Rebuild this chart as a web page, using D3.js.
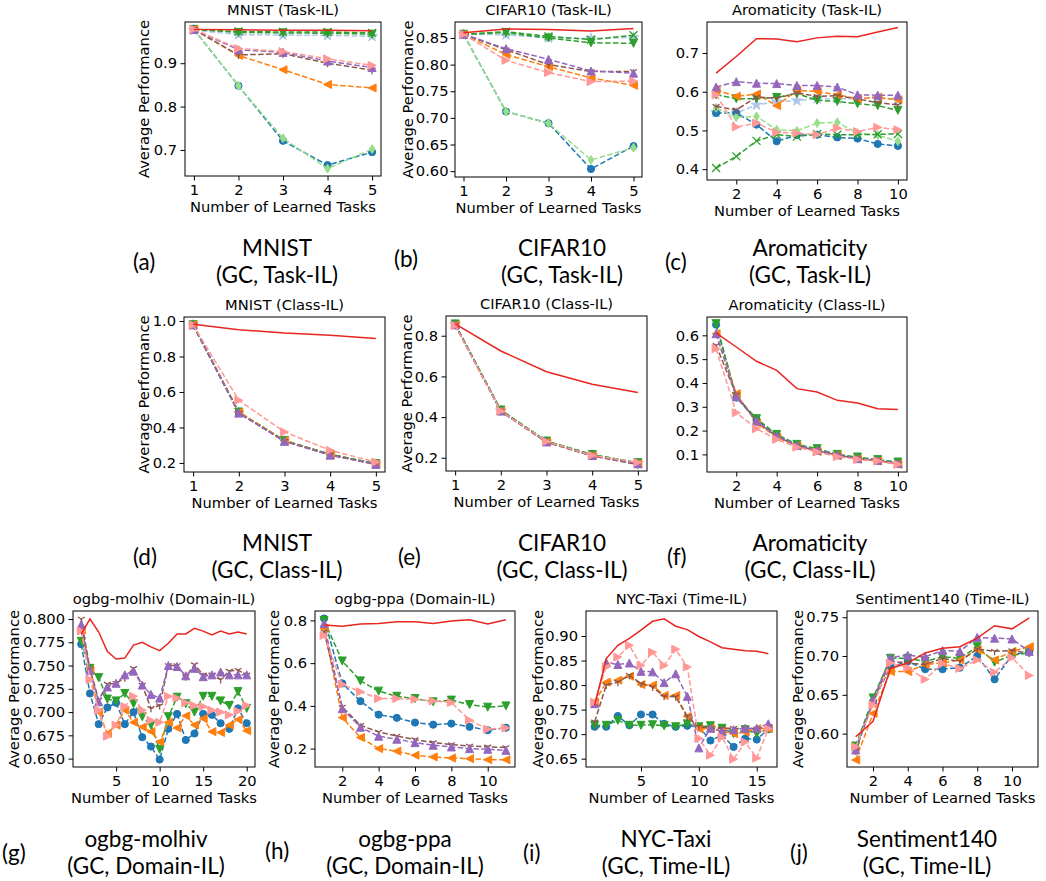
<!DOCTYPE html>
<html>
<head>
<meta charset="utf-8">
<script src="https://cdn.jsdelivr.net/npm/d3@7"></script>
<style>
  body { margin: 0; background: #fff; }
  svg text { font-family: "DejaVu Sans", sans-serif; fill: #000; }
  svg text.caption { font-family: Lato, "Open Sans", sans-serif; font-size: 22.5px; font-weight: 400; }
</style>
</head>
<body>
<svg id="chart" width="1046" height="881"></svg>
<script>
// x values (task counts)
const tasks5 = [1, 2, 3, 4, 5];
const tasks10 = [1, 2, 3, 4, 5, 6, 7, 8, 9, 10];
const tasks11 = [1, 2, 3, 4, 5, 6, 7, 8, 9, 10, 11];
const tasks16 = [1, 2, 3, 4, 5, 6, 7, 8, 9, 10, 11, 12, 13, 14, 15, 16];
const tasks20 = [1, 2, 3, 4, 5, 6, 7, 8, 9, 10, 11, 12, 13, 14, 15, 16, 17, 18, 19, 20];

// series are keyed by their marker; "upper" is the solid red line
const mnistTask = {
    upper:   [0.978, 0.977, 0.976, 0.976, 0.975],
    cross:   [0.978, 0.973, 0.972, 0.972, 0.970],
    down:    [0.978, 0.971, 0.970, 0.969, 0.967],
    star:    [0.976, 0.966, 0.965, 0.964, 0.962],
    up:      [0.978, 0.931, 0.925, 0.905, 0.890],
    right:   [0.978, 0.934, 0.927, 0.910, 0.895],
    tri:     [0.978, 0.919, 0.922, 0.900, 0.884],
    left:    [0.978, 0.918, 0.885, 0.851, 0.843],
    circle:  [0.978, 0.848, 0.721, 0.665, 0.695],
    diamond: [0.978, 0.848, 0.727, 0.657, 0.702]
};

const cifarTask = {
    upper:   [0.860, 0.867, 0.866, 0.863, 0.868],
    cross:   [0.857, 0.862, 0.853, 0.847, 0.855],
    down:    [0.857, 0.860, 0.850, 0.841, 0.840],
    star:    [0.857, 0.856, 0.850, 0.849, 0.851],
    up:      [0.857, 0.830, 0.810, 0.788, 0.784],
    tri:     [0.857, 0.828, 0.800, 0.787, 0.787],
    left:    [0.857, 0.819, 0.796, 0.775, 0.761],
    right:   [0.857, 0.808, 0.785, 0.768, 0.769],
    circle:  [0.857, 0.712, 0.690, 0.604, 0.647],
    diamond: [0.857, 0.712, 0.690, 0.621, 0.644]
};

const aromTask = {
    upper:   [0.648, 0.691, 0.737, 0.736, 0.729, 0.739, 0.743, 0.742, 0.754, 0.766],
    up:      [0.612, 0.626, 0.622, 0.621, 0.616, 0.616, 0.612, 0.592, 0.591, 0.591],
    left:    [0.605, 0.588, 0.594, 0.564, 0.603, 0.601, 0.592, 0.582, 0.586, 0.579],
    down:    [0.592, 0.582, 0.582, 0.585, 0.595, 0.578, 0.575, 0.569, 0.564, 0.552],
    tri:     [0.562, 0.553, 0.586, 0.583, 0.597, 0.588, 0.590, 0.581, 0.572, 0.566],
    star:    [0.547, 0.545, 0.566, 0.574, 0.577, 0.582, 0.582, 0.582, 0.584, 0.579],
    right:   [0.592, 0.509, 0.519, 0.495, 0.493, 0.489, 0.506, 0.497, 0.508, 0.502],
    diamond: [0.558, 0.534, 0.536, 0.502, 0.499, 0.519, 0.521, 0.493, 0.488, 0.472],
    circle:  [0.545, 0.545, 0.515, 0.472, 0.488, 0.489, 0.482, 0.479, 0.465, 0.460],
    cross:   [0.403, 0.433, 0.473, 0.489, 0.484, 0.491, 0.489, 0.489, 0.490, 0.491]
};

const mnistClass = {
    upper:   [0.982, 0.951, 0.932, 0.919, 0.902],
    circle:  [0.978, 0.483, 0.325, 0.247, 0.195],
    diamond: [0.978, 0.484, 0.324, 0.246, 0.194],
    cross:   [0.977, 0.485, 0.326, 0.248, 0.196],
    down:    [0.979, 0.487, 0.327, 0.249, 0.196],
    star:    [0.977, 0.482, 0.323, 0.246, 0.194],
    up:      [0.978, 0.481, 0.322, 0.244, 0.192],
    left:    [0.979, 0.486, 0.326, 0.245, 0.193],
    tri:     [0.978, 0.480, 0.322, 0.245, 0.192],
    right:   [0.978, 0.553, 0.375, 0.271, 0.205]
};

const cifarClass = {
    upper:   [0.858, 0.725, 0.623, 0.562, 0.521],
    circle:  [0.855, 0.432, 0.280, 0.213, 0.172],
    diamond: [0.856, 0.433, 0.281, 0.214, 0.173],
    cross:   [0.857, 0.434, 0.282, 0.215, 0.174],
    down:    [0.858, 0.435, 0.282, 0.216, 0.176],
    star:    [0.855, 0.431, 0.279, 0.212, 0.172],
    up:      [0.854, 0.430, 0.278, 0.211, 0.171],
    left:    [0.853, 0.429, 0.277, 0.210, 0.169],
    tri:     [0.852, 0.428, 0.276, 0.209, 0.166],
    right:   [0.851, 0.430, 0.280, 0.212, 0.177]
};

const aromClass = {
    upper:  [0.610, 0.551, 0.491, 0.453, 0.376, 0.362, 0.327, 0.316, 0.292, 0.288],
    down:   [0.649, 0.344, 0.250, 0.184, 0.142, 0.124, 0.100, 0.089, 0.078, 0.068],
    circle: [0.645, 0.338, 0.245, 0.180, 0.140, 0.120, 0.100, 0.085, 0.075, 0.065],
    up:     [0.607, 0.343, 0.240, 0.178, 0.138, 0.118, 0.098, 0.082, 0.075, 0.062],
    left:   [0.607, 0.355, 0.232, 0.172, 0.135, 0.112, 0.095, 0.080, 0.072, 0.058],
    tri:    [0.558, 0.350, 0.238, 0.175, 0.137, 0.115, 0.097, 0.082, 0.074, 0.060],
    right:  [0.544, 0.275, 0.208, 0.163, 0.130, 0.110, 0.090, 0.079, 0.072, 0.058]
};

const molhiv = {
    upper:  [0.784, 0.800, 0.786, 0.765, 0.757, 0.758, 0.772, 0.775, 0.770, 0.766, 0.774, 0.784, 0.784, 0.790, 0.787, 0.783, 0.787, 0.784, 0.786, 0.784],
    tri:    [0.800, 0.746, 0.713, 0.730, 0.731, 0.737, 0.747, 0.729, 0.704, 0.707, 0.750, 0.750, 0.738, 0.751, 0.740, 0.740, 0.735, 0.744, 0.745, 0.740],
    up:     [0.794, 0.745, 0.711, 0.727, 0.731, 0.740, 0.744, 0.729, 0.719, 0.715, 0.750, 0.749, 0.739, 0.747, 0.738, 0.740, 0.743, 0.740, 0.740, 0.740],
    down:   [0.776, 0.747, 0.737, 0.714, 0.712, 0.720, 0.709, 0.695, 0.686, 0.660, 0.695, 0.716, 0.709, 0.700, 0.717, 0.717, 0.712, 0.707, 0.722, 0.704],
    right:  [0.787, 0.735, 0.702, 0.674, 0.686, 0.706, 0.717, 0.702, 0.691, 0.689, 0.717, 0.715, 0.710, 0.707, 0.706, 0.702, 0.700, 0.697, 0.701, 0.707],
    left:   [0.788, 0.745, 0.700, 0.677, 0.686, 0.702, 0.689, 0.684, 0.679, 0.668, 0.689, 0.683, 0.696, 0.686, 0.693, 0.679, 0.678, 0.686, 0.692, 0.680],
    circle: [0.773, 0.720, 0.687, 0.705, 0.710, 0.687, 0.700, 0.673, 0.663, 0.649, 0.682, 0.698, 0.670, 0.677, 0.698, 0.697, 0.688, 0.682, 0.704, 0.688]
};

const ppa = {
    upper:  [0.778, 0.773, 0.783, 0.786, 0.794, 0.794, 0.786, 0.797, 0.803, 0.783, 0.803],
    circle: [0.809, 0.505, 0.422, 0.359, 0.344, 0.322, 0.312, 0.317, 0.302, 0.286, 0.298],
    down:   [0.800, 0.610, 0.517, 0.469, 0.445, 0.434, 0.419, 0.427, 0.406, 0.394, 0.400],
    right:  [0.730, 0.500, 0.466, 0.434, 0.434, 0.431, 0.423, 0.416, 0.333, 0.291, 0.297],
    tri:    [0.747, 0.395, 0.309, 0.278, 0.259, 0.242, 0.228, 0.219, 0.212, 0.208, 0.205],
    up:     [0.786, 0.387, 0.300, 0.258, 0.244, 0.228, 0.216, 0.208, 0.200, 0.197, 0.192],
    left:   [0.763, 0.345, 0.252, 0.200, 0.188, 0.169, 0.161, 0.156, 0.153, 0.148, 0.148]
};

const taxi = {
    upper:  [0.759, 0.854, 0.881, 0.895, 0.912, 0.930, 0.935, 0.920, 0.913, 0.899, 0.888, 0.876, 0.873, 0.870, 0.869, 0.864],
    right:  [0.765, 0.837, 0.857, 0.881, 0.840, 0.867, 0.840, 0.873, 0.837, 0.691, 0.657, 0.694, 0.649, 0.684, 0.651, 0.711],
    up:     [0.762, 0.846, 0.842, 0.845, 0.828, 0.827, 0.805, 0.823, 0.777, 0.672, 0.712, 0.706, 0.709, 0.712, 0.712, 0.721],
    left:   [0.765, 0.806, 0.810, 0.818, 0.801, 0.800, 0.779, 0.779, 0.736, 0.711, 0.711, 0.706, 0.701, 0.704, 0.711, 0.711],
    tri:    [0.725, 0.800, 0.806, 0.820, 0.803, 0.796, 0.777, 0.776, 0.736, 0.715, 0.712, 0.712, 0.712, 0.711, 0.711, 0.715],
    circle: [0.715, 0.715, 0.737, 0.718, 0.740, 0.740, 0.721, 0.715, 0.717, 0.715, 0.687, 0.698, 0.674, 0.691, 0.689, 0.710],
    down:   [0.718, 0.718, 0.728, 0.718, 0.718, 0.719, 0.717, 0.715, 0.721, 0.715, 0.717, 0.712, 0.701, 0.709, 0.701, 0.711]
};

const sentiment = {
    upper:  [0.596, 0.616, 0.684, 0.691, 0.704, 0.710, 0.712, 0.723, 0.739, 0.735, 0.749],
    up:     [0.579, 0.643, 0.698, 0.701, 0.699, 0.707, 0.706, 0.724, 0.723, 0.722, 0.706],
    down:   [0.584, 0.646, 0.697, 0.697, 0.693, 0.699, 0.697, 0.712, 0.692, 0.701, 0.704],
    tri:    [0.578, 0.641, 0.693, 0.691, 0.689, 0.697, 0.693, 0.709, 0.706, 0.707, 0.704],
    left:   [0.566, 0.626, 0.680, 0.680, 0.689, 0.691, 0.695, 0.708, 0.695, 0.706, 0.712],
    circle: [0.582, 0.641, 0.686, 0.693, 0.683, 0.683, 0.685, 0.700, 0.670, 0.701, 0.706],
    right:  [0.583, 0.637, 0.691, 0.685, 0.670, 0.690, 0.684, 0.695, 0.679, 0.698, 0.675]
};

const colors = {
    circle: "#1f77b4", diamond: "#98df8a", cross: "#2ca02c", down: "#2ca02c",
    star: "#aec7e8", up: "#9467bd", right: "#ff9896", left: "#ff7f0e",
    tri: "#8c564b", upper: "#e8251f"
};
// drawing order, later ones on top
const order = ["star", "circle", "diamond", "cross", "down", "left", "tri", "up", "right", "upper"];

const panels = [
    { title: "MNIST (Task-IL)", xs: tasks5, data: mnistTask, box: [185, 22, 381, 176],
      yDomain: [0.64, 0.995], yTicks: [0.7, 0.8, 0.9], fmt: ".1f", xTicks: tasks5, yLabelX: 143, pad: 3.5 },
    { title: "CIFAR10 (Task-IL)", xs: tasks5, data: cifarTask, box: [455, 22, 642, 177],
      yDomain: [0.589, 0.88], yTicks: [0.60, 0.65, 0.70, 0.75, 0.80, 0.85], fmt: ".2f", xTicks: tasks5, yLabelX: 407, pad: 2 },
    { title: "Aromaticity (Task-IL)", xs: tasks10, data: aromTask, box: [707, 22, 907, 180],
      yDomain: [0.372, 0.78], yTicks: [0.4, 0.5, 0.6, 0.7], fmt: ".1f", xTicks: [2, 4, 6, 8, 10], yLabelX: null, pad: 3.5 },
    { title: "MNIST (Class-IL)", xs: tasks5, data: mnistClass, box: [184, 317, 385, 472],
      yDomain: [0.149, 1.0225], yTicks: [0.2, 0.4, 0.6, 0.8, 1.0], fmt: ".1f", xTicks: tasks5, yLabelX: 143, pad: 3.5 },
    { title: "CIFAR10 (Class-IL)", xs: tasks5, data: cifarClass, box: [446, 316, 647, 471],
      yDomain: [0.135, 0.897], yTicks: [0.2, 0.4, 0.6, 0.8], fmt: ".1f", xTicks: tasks5, yLabelX: 406, pad: 3.5 },
    { title: "Aromaticity (Class-IL)", xs: tasks10, data: aromClass, box: [707, 317, 907, 472],
      yDomain: [0.026, 0.677], yTicks: [0.1, 0.2, 0.3, 0.4, 0.5, 0.6], fmt: ".1f", xTicks: [2, 4, 6, 8, 10], yLabelX: null, pad: 3.5 },
    { title: "ogbg-molhiv (Domain-IL)", xs: tasks20, data: molhiv, box: [73, 611, 255, 767],
      yDomain: [0.641, 0.8086], yTicks: [0.65, 0.675, 0.70, 0.725, 0.75, 0.775, 0.80], fmt: ".3f", xTicks: [5, 10, 15, 20], yLabelX: 13, pad: 3.5 },
    { title: "ogbg-ppa (Domain-IL)", xs: tasks11, data: ppa, box: [315, 611, 515, 767],
      yDomain: [0.114, 0.844], yTicks: [0.2, 0.4, 0.6, 0.8], fmt: ".1f", xTicks: [2, 4, 6, 8, 10], yLabelX: 273, pad: 3.5 },
    { title: "NYC-Taxi (Time-IL)", xs: tasks16, data: taxi, box: [586, 611, 777, 767],
      yDomain: [0.633, 0.951], yTicks: [0.65, 0.70, 0.75, 0.80, 0.85, 0.90], fmt: ".2f", xTicks: [5, 10, 15], yLabelX: 537, pad: 3.5 },
    { title: "Sentiment140 (Time-IL)", xs: tasks11, data: sentiment, box: [847, 611, 1038, 767],
      yDomain: [0.557, 0.758], yTicks: [0.60, 0.65, 0.70, 0.75], fmt: ".2f", xTicks: [2, 4, 6, 8, 10], yLabelX: 797, pad: 3.5 }
];

const captions = [
    { tag: "(a)", tagX: 133, tagY: 270, cx: 277, y: 256, lines: ["MNIST", "(GC, Task-IL)"] },
    { tag: "(b)", tagX: 394, tagY: 267, cx: 562, y: 256, lines: ["CIFAR10", "(GC, Task-IL)"] },
    { tag: "(c)", tagX: 665, tagY: 270, cx: 810, y: 256, lines: ["Aromaticity", "(GC, Task-IL)"] },
    { tag: "(d)", tagX: 133, tagY: 565, cx: 277, y: 551, lines: ["MNIST", "(GC, Class-IL)"] },
    { tag: "(e)", tagX: 398, tagY: 565, cx: 562, y: 551, lines: ["CIFAR10", "(GC, Class-IL)"] },
    { tag: "(f)", tagX: 667, tagY: 565, cx: 810, y: 551, lines: ["Aromaticity", "(GC, Class-IL)"] },
    { tag: "(g)", tagX: 2, tagY: 861, cx: 146, y: 847, lines: ["ogbg-molhiv", "(GC, Domain-IL)"] },
    { tag: "(h)", tagX: 265, tagY: 859, cx: 405, y: 847, lines: ["ogbg-ppa", "(GC, Domain-IL)"] },
    { tag: "(i)", tagX: 523, tagY: 861, cx: 666, y: 847, lines: ["NYC-Taxi", "(GC, Time-IL)"] },
    { tag: "(j)", tagX: 790, tagY: 861, cx: 927, y: 847, lines: ["Sentiment140", "(GC, Time-IL)"] }
];

function markerPath(type, r) {
    switch (type) {
        case "circle": return d3.symbol(d3.symbolCircle, Math.PI * r * r * 0.85)();
        case "up": return `M0,${-r}L${r},${r}L${-r},${r}Z`;
        case "down": return `M0,${r}L${r},${-r}L${-r},${-r}Z`;
        case "left": return `M${-r},0L${r},${-r}L${r},${r}Z`;
        case "right": return `M${r},0L${-r},${-r}L${-r},${r}Z`;
        case "diamond": return `M0,${-r * 1.1}L${r * 0.7},0L0,${r * 1.1}L${-r * 0.7},0Z`;
        case "star": return d3.symbol(d3.symbolStar, r * r * 2.2)();
        case "cross": return `M${-r},${-r}L${r},${r}M${-r},${r}L${r},${-r}`;
        case "tri": {
            const a = r * 0.866, b = r * 0.5;
            return `M0,0L0,${r}M0,0L${-a},${-b}M0,0L${a},${-b}`;
        }
    }
}

const svg = d3.select("#chart");
svg.append("rect").attr("width", 1046).attr("height", 881).attr("fill", "#fff");
const defs = svg.append("defs");
const fontSize = 14.7;
const font = "DejaVu Sans";

panels.forEach((p, i) => {
    const [l, t, r, b] = p.box;
    const xs = p.xs;
    const span = xs[xs.length - 1] - xs[0];
    const x = d3.scaleLinear()
        .domain([xs[0] - 0.05 * span, xs[xs.length - 1] + 0.05 * span])
        .range([l, r]);
    const y = d3.scaleLinear().domain(p.yDomain).range([b, t]);

    defs.append("clipPath").attr("id", "clip" + i)
        .append("rect").attr("x", l).attr("y", t).attr("width", r - l).attr("height", b - t);

    const plot = svg.append("g").attr("clip-path", `url(#clip${i})`);

    order.filter(k => p.data[k]).forEach(k => {
        const pts = p.data[k].map((v, j) => [x(xs[j]), y(v)]);
        plot.append("path")
            .attr("d", d3.line()(pts))
            .attr("fill", "none")
            .attr("stroke", colors[k])
            .attr("stroke-width", 1.5)
            .attr("stroke-dasharray", k === "upper" ? null : "5.5,2.4");

        if (k === "upper") return;
        const open = k === "cross" || k === "tri";
        plot.append("g")
            .selectAll("path")
            .data(pts)
            .enter().append("path")
            .attr("transform", d => `translate(${d[0]},${d[1]})`)
            .attr("d", markerPath(k, k === "circle" ? 3.9 : 4))
            .attr("fill", open ? "none" : colors[k])
            .attr("stroke", colors[k])
            .attr("stroke-width", open ? 1.3 : 1);
    });

    // axes
    const xAxis = svg.append("g")
        .attr("transform", `translate(0,${b})`)
        .call(d3.axisBottom(x).tickValues(p.xTicks).tickSize(4.5).tickPadding(4.5).tickFormat(d3.format("d")));
    const yAxis = svg.append("g")
        .attr("transform", `translate(${l},0)`)
        .call(d3.axisLeft(y).tickValues(p.yTicks).tickSize(4.5).tickPadding(p.pad).tickFormat(d3.format(p.fmt)));

    [xAxis, yAxis].forEach(ax => {
        ax.select(".domain").remove();
        ax.attr("font-family", null).attr("font-size", null);
        ax.selectAll(".tick line").attr("stroke", "#000").attr("stroke-width", 1);
        ax.selectAll(".tick text").attr("fill", "#000").style("font-size", fontSize + "px");
    });

    svg.append("rect")
        .attr("x", l).attr("y", t)
        .attr("width", r - l).attr("height", b - t)
        .attr("fill", "none").attr("stroke", "#000").attr("stroke-width", 1);

    svg.append("text")
        .attr("x", (l + r) / 2).attr("y", t - 7)
        .attr("text-anchor", "middle")
        .style("font-size", fontSize + "px")
        .text(p.title);

    svg.append("text")
        .attr("x", (l + r) / 2).attr("y", b + 36)
        .attr("text-anchor", "middle")
        .style("font-size", fontSize + "px")
        .text("Number of Learned Tasks");

    if (p.yLabelX !== null) {
        svg.append("text")
            .attr("transform", `translate(${p.yLabelX},${(t + b) / 2}) rotate(-90)`)
            .attr("text-anchor", "middle")
            .attr("dominant-baseline", "central")
            .style("font-size", fontSize + "px")
            .text("Average Performance");
    }
});

captions.forEach(c => {
    svg.append("text").attr("class", "caption")
        .attr("x", c.tagX).attr("y", c.tagY)
        .text(c.tag);
    c.lines.forEach((line, k) => {
        svg.append("text").attr("class", "caption")
            .attr("x", c.cx).attr("y", c.y + k * 27)
            .attr("text-anchor", "middle")
            .text(line);
    });
});
</script>
</body>
</html>
